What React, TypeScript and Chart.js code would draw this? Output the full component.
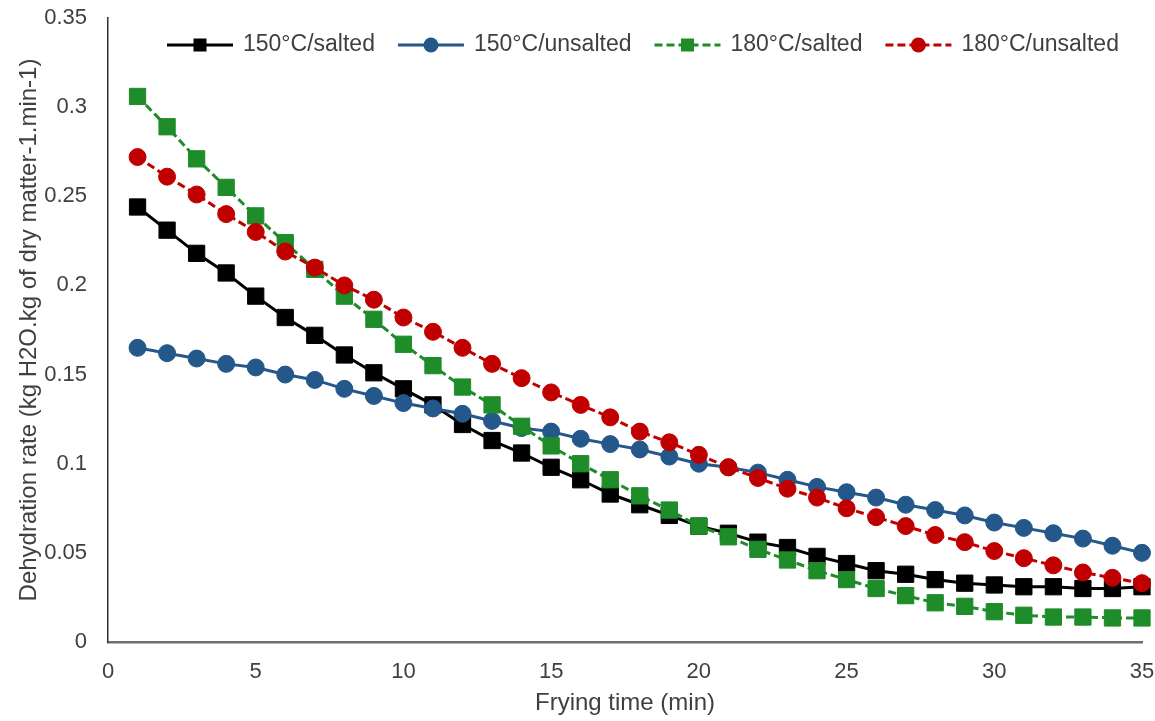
import React, { useEffect, useRef } from 'react';
import { Chart, registerables } from 'chart.js';

Chart.register(...registerables);

const fryingTime = [1, 2, 3, 4, 5, 6, 7, 8, 9, 10, 11, 12, 13, 14, 15, 16, 17, 18, 19, 20, 21, 22, 23, 24, 25, 26, 27, 28, 29, 30, 31, 32, 33, 34, 35];

const salted150 = [0.244, 0.231, 0.218, 0.207, 0.194, 0.182, 0.172, 0.161, 0.151, 0.142, 0.133, 0.122, 0.113, 0.106, 0.098, 0.091, 0.083, 0.077, 0.071, 0.065, 0.061, 0.056, 0.053, 0.048, 0.044, 0.040, 0.038, 0.035, 0.033, 0.032, 0.031, 0.031, 0.030, 0.030, 0.031];
const unsalted150 = [0.165, 0.162, 0.159, 0.156, 0.154, 0.150, 0.147, 0.142, 0.138, 0.134, 0.131, 0.128, 0.124, 0.120, 0.118, 0.114, 0.111, 0.108, 0.104, 0.100, 0.098, 0.095, 0.091, 0.087, 0.084, 0.081, 0.077, 0.074, 0.071, 0.067, 0.064, 0.061, 0.058, 0.054, 0.050];
const salted180 = [0.306, 0.289, 0.271, 0.255, 0.239, 0.224, 0.209, 0.194, 0.181, 0.167, 0.155, 0.143, 0.133, 0.121, 0.110, 0.100, 0.091, 0.082, 0.074, 0.065, 0.059, 0.052, 0.046, 0.040, 0.035, 0.030, 0.026, 0.022, 0.020, 0.017, 0.015, 0.014, 0.014, 0.0135, 0.0135];
const unsalted180 = [0.272, 0.261, 0.251, 0.240, 0.230, 0.219, 0.210, 0.200, 0.192, 0.182, 0.174, 0.165, 0.156, 0.148, 0.140, 0.133, 0.126, 0.118, 0.112, 0.105, 0.098, 0.092, 0.086, 0.081, 0.075, 0.070, 0.065, 0.060, 0.056, 0.051, 0.047, 0.043, 0.039, 0.036, 0.033];

const seriesLabels = ['150°C/salted', '150°C/unsalted', '180°C/salted', '180°C/unsalted'];
const xTickLabels = ['0', '5', '10', '15', '20', '25', '30', '35'];
const yTickLabels = ['0', '0.05', '0.1', '0.15', '0.2', '0.25', '0.3', '0.35'];
const xTitle = 'Frying time (min)';
const yTitle = 'Dehydration rate (kg H2O.kg of dry matter-1.min-1)';

const FONT = '"Liberation Sans", Arial, Helvetica, sans-serif';
const TEXT = '#404040';

const toPoints = (vals: number[]) => fryingTime.map((t, i) => ({ x: t, y: vals[i] }));

const inlineLegend = {
  id: 'inlineLegend',
  afterDraw(chart: any) {
    const ctx = chart.ctx as CanvasRenderingContext2D;
    const area = chart.chartArea;
    let x = area.left + 59;
    const y = area.top + 27;
    const lineLen = 66;
    ctx.save();
    ctx.font = `23px ${FONT}`;
    ctx.textBaseline = 'middle';
    ctx.textAlign = 'left';
    chart.data.datasets.forEach((ds: any) => {
      ctx.strokeStyle = ds.borderColor;
      ctx.lineWidth = ds.borderWidth;
      ctx.setLineDash(ds.borderDash || []);
      ctx.beginPath();
      ctx.moveTo(x, y);
      ctx.lineTo(x + lineLen, y);
      ctx.stroke();
      ctx.setLineDash([]);
      ctx.fillStyle = ds.pointBackgroundColor;
      const cx = x + lineLen / 2;
      if (ds.pointStyle === 'rect') {
        ctx.fillRect(cx - 6.5, y - 6.5, 13, 13);
      } else {
        ctx.beginPath();
        ctx.arc(cx, y, 7.5, 0, Math.PI * 2);
        ctx.fill();
      }
      ctx.fillStyle = TEXT;
      const tx = x + lineLen + 10;
      ctx.fillText(ds.label, tx, y);
      x = tx + ctx.measureText(ds.label).width + 23;
    });
    ctx.restore();
  },
};

export default function App() {
  const ref = useRef<HTMLCanvasElement | null>(null);

  useEffect(() => {
    if (!ref.current) return;
    Chart.defaults.font.family = FONT;
    Chart.defaults.color = TEXT;
    const mk = (label: string, vals: number[], color: string, style: string, dash: number[], order: number) => ({
      label,
      data: toPoints(vals),
      borderColor: color,
      backgroundColor: color,
      pointBackgroundColor: color,
      pointBorderColor: color,
      pointBorderWidth: 1,
      pointStyle: style,
      pointRadius: style === 'rect' ? 11.5 : 8.5,
      borderWidth: 3,
      borderDash: dash,
      tension: 0,
      fill: false,
      clip: false as any,
      order,
    });
    const chart = new Chart(ref.current, {
      type: 'line',
      data: {
        datasets: [
          mk(seriesLabels[0], salted150, '#000000', 'rect', [], 3),
          mk(seriesLabels[1], unsalted150, '#24578A', 'circle', [], 2),
          mk(seriesLabels[2], salted180, '#1E8C28', 'rect', [8, 4], 1),
          mk(seriesLabels[3], unsalted180, '#C00000', 'circle', [8, 4], 0),
        ] as any,
      },
      options: {
        animation: false,
        responsive: false,
        layout: { padding: { left: 0, right: 13, top: 18, bottom: 0 } },
        plugins: { legend: { display: false }, tooltip: { enabled: false } },
        scales: {
          x: {
            type: 'linear',
            min: 0,
            max: 35,
            grid: { display: false, drawTicks: false },
            border: { display: true, color: '#6e6e6e', width: 2.5 },
            ticks: {
              stepSize: 5,
              padding: 17,
              color: TEXT,
              font: { size: 22 },
              callback: (_v: any, i: number) => xTickLabels[i],
            },
            title: { display: true, text: xTitle, color: TEXT, font: { size: 24 }, padding: { top: 0, bottom: 3 } },
            afterFit: (s: any) => { s.height = 79; s.paddingLeft = 0; s.paddingRight = 0; },
          },
          y: {
            type: 'linear',
            min: 0,
            max: 0.35,
            grid: { display: false, drawTicks: false },
            border: { display: true, color: '#303030', width: 1.5 },
            ticks: {
              stepSize: 0.05,
              padding: 21,
              color: TEXT,
              font: { size: 22 },
              callback: (_v: any, i: number) => yTickLabels[i],
            },
            title: { display: true, text: yTitle, color: TEXT, font: { size: 24 }, padding: { top: 15, bottom: 0 } },
            afterFit: (s: any) => { s.width = 108; s.paddingTop = 0; s.paddingBottom = 0; },
          },
        },
      } as any,
      plugins: [inlineLegend],
    });
    return () => chart.destroy();
  }, []);

  return (
    <div style={{ position: 'absolute', left: 0, top: 0, width: 1155, height: 721, background: '#fff' }}>
      <canvas ref={ref} width={1155} height={721} style={{ display: 'block', width: 1155, height: 721 }} />
    </div>
  );
}
